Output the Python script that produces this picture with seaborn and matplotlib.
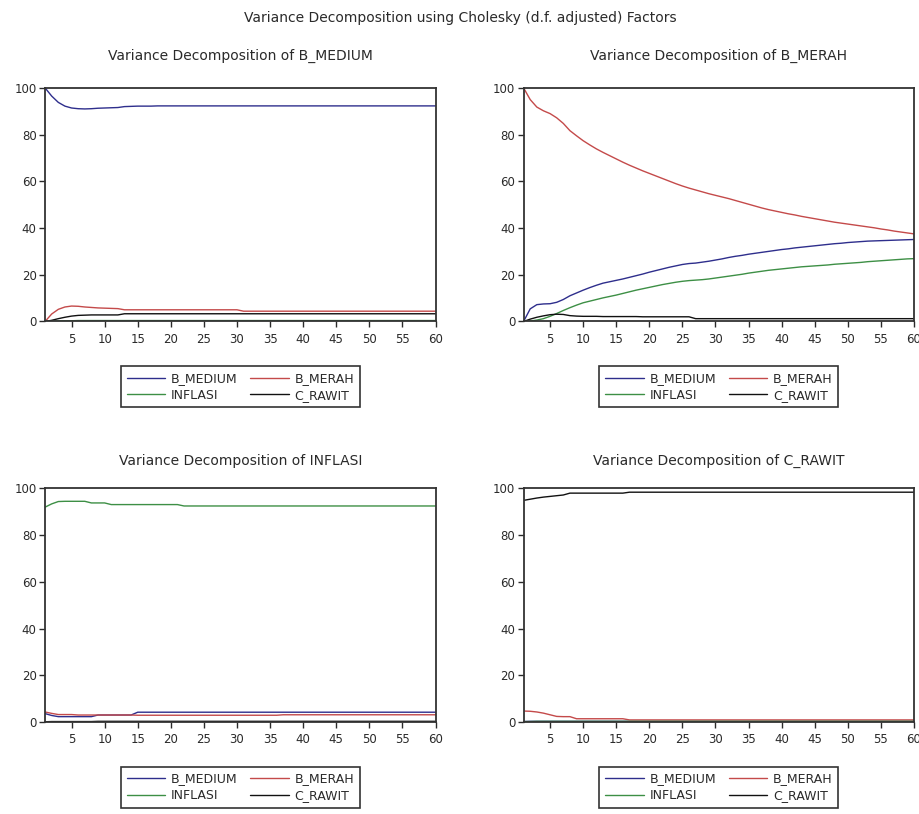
import matplotlib.pyplot as plt
import seaborn as sns
import pandas as pd

# ---------- DATA ----------
PERIODS = list(range(1, 61))
SERIES = ["B_MEDIUM", "B_MERAH", "INFLASI", "C_RAWIT"]
TICKS_X = [5, 10, 15, 20, 25, 30, 35, 40, 45, 50, 55, 60]
TICKS_Y = [0, 20, 40, 60, 80, 100]

# Variance Decomposition of B_MEDIUM
bmedium_b_medium = [100.0, 96.5, 93.8, 92.2, 91.4, 91.1, 91.0, 91.1, 91.3, 91.4,
                    91.5, 91.6, 92.0, 92.1, 92.2, 92.2, 92.2, 92.3, 92.3, 92.3,
                    92.3, 92.3, 92.3, 92.3, 92.3, 92.3, 92.3, 92.3, 92.3, 92.3,
                    92.3, 92.3, 92.3, 92.3, 92.3, 92.3, 92.3, 92.3, 92.3, 92.3,
                    92.3, 92.3, 92.3, 92.3, 92.3, 92.3, 92.3, 92.3, 92.3, 92.3,
                    92.3, 92.3, 92.3, 92.3, 92.3, 92.3, 92.3, 92.3, 92.3, 92.3]
bmedium_b_merah = [0.0, 3.2, 5.2, 6.2, 6.6, 6.5, 6.2, 6.0, 5.8, 5.7,
                   5.6, 5.5, 5.0, 5.0, 5.0, 5.0, 5.0, 5.0, 5.0, 5.0,
                   5.0, 5.0, 5.0, 5.0, 5.0, 5.0, 5.0, 5.0, 5.0, 5.0,
                   4.4, 4.4, 4.4, 4.4, 4.4, 4.4, 4.4, 4.4, 4.4, 4.4,
                   4.4, 4.4, 4.4, 4.4, 4.4, 4.4, 4.4, 4.4, 4.4, 4.4,
                   4.4, 4.4, 4.4, 4.4, 4.4, 4.4, 4.4, 4.4, 4.4, 4.4]
bmedium_inflasi = [0.0, 0.1, 0.2, 0.3, 0.3, 0.4, 0.4, 0.4, 0.4, 0.4,
                   0.4, 0.4, 0.4, 0.4, 0.4, 0.4, 0.4, 0.4, 0.4, 0.4,
                   0.4, 0.4, 0.4, 0.4, 0.4, 0.4, 0.4, 0.4, 0.4, 0.4,
                   0.4, 0.4, 0.4, 0.4, 0.4, 0.4, 0.4, 0.4, 0.4, 0.4,
                   0.4, 0.4, 0.4, 0.4, 0.4, 0.4, 0.4, 0.4, 0.4, 0.4,
                   0.4, 0.4, 0.4, 0.4, 0.4, 0.4, 0.4, 0.4, 0.4, 0.4]
bmedium_c_rawit = [0.0, 0.5, 1.2, 1.8, 2.3, 2.6, 2.7, 2.8, 2.8, 2.8,
                   2.8, 2.8, 3.3, 3.3, 3.3, 3.3, 3.3, 3.3, 3.3, 3.3,
                   3.3, 3.3, 3.3, 3.3, 3.3, 3.3, 3.3, 3.3, 3.3, 3.3,
                   3.3, 3.3, 3.3, 3.3, 3.3, 3.3, 3.3, 3.3, 3.3, 3.3,
                   3.3, 3.3, 3.3, 3.3, 3.3, 3.3, 3.3, 3.3, 3.3, 3.3,
                   3.3, 3.3, 3.3, 3.3, 3.3, 3.3, 3.3, 3.3, 3.3, 3.3]

# Variance Decomposition of B_MERAH
bmerah_b_medium = [0.0, 5.4, 7.2, 7.5, 7.6, 8.2, 9.4, 11.0, 12.2, 13.4,
                   14.5, 15.5, 16.4, 17.0, 17.6, 18.2, 18.9, 19.6, 20.3, 21.1,
                   21.8, 22.5, 23.2, 23.8, 24.4, 24.8, 25.0, 25.4, 25.8, 26.3,
                   26.8, 27.4, 27.9, 28.3, 28.8, 29.2, 29.6, 30.0, 30.4, 30.8,
                   31.1, 31.5, 31.8, 32.1, 32.4, 32.7, 33.0, 33.3, 33.5, 33.8,
                   34.0, 34.2, 34.4, 34.5, 34.6, 34.7, 34.8, 34.9, 35.0, 35.1]
bmerah_b_merah = [100.0, 95.0, 91.8, 90.2, 89.0, 87.2, 84.8, 81.7, 79.5, 77.4,
                  75.6, 73.9, 72.4, 71.0, 69.6, 68.2, 66.9, 65.7, 64.5, 63.4,
                  62.3, 61.2, 60.1, 59.0, 58.0, 57.1, 56.3, 55.5, 54.7, 54.0,
                  53.3, 52.6, 51.8, 51.0, 50.2, 49.4, 48.6, 47.9, 47.3, 46.7,
                  46.1, 45.6, 45.0, 44.5, 44.0, 43.5, 43.0, 42.5, 42.1, 41.7,
                  41.3, 40.9, 40.5, 40.1, 39.6, 39.2, 38.7, 38.3, 37.9, 37.5]
bmerah_inflasi = [0.0, 0.2, 0.6, 1.2, 2.2, 3.4, 4.7, 5.9, 7.0, 8.0,
                  8.7, 9.4, 10.1, 10.7, 11.3, 12.0, 12.7, 13.4, 14.0, 14.6,
                  15.2, 15.8, 16.3, 16.8, 17.2, 17.5, 17.7, 17.9, 18.2, 18.6,
                  19.0, 19.4, 19.8, 20.2, 20.7, 21.1, 21.5, 21.9, 22.2, 22.5,
                  22.8, 23.1, 23.4, 23.6, 23.8, 24.0, 24.2, 24.5, 24.7, 24.9,
                  25.1, 25.3, 25.6, 25.8, 26.0, 26.2, 26.4, 26.6, 26.8, 26.9]
bmerah_c_rawit = [0.0, 1.0, 1.8, 2.4, 2.9, 3.1, 3.0, 2.5, 2.3, 2.2,
                  2.2, 2.2, 2.1, 2.1, 2.1, 2.1, 2.1, 2.1, 2.0, 2.0,
                  2.0, 2.0, 2.0, 2.0, 2.0, 2.0, 1.2, 1.2, 1.2, 1.2,
                  1.2, 1.2, 1.2, 1.2, 1.2, 1.2, 1.2, 1.2, 1.2, 1.2,
                  1.2, 1.2, 1.2, 1.2, 1.2, 1.2, 1.2, 1.2, 1.2, 1.2,
                  1.2, 1.2, 1.2, 1.2, 1.2, 1.2, 1.2, 1.2, 1.2, 1.2]

# Variance Decomposition of INFLASI
inflasi_b_medium = [3.6, 2.8, 2.3, 2.3, 2.3, 2.3, 2.3, 2.3, 3.0, 3.0,
                    3.0, 3.0, 3.0, 3.0, 4.2, 4.2, 4.2, 4.2, 4.2, 4.2,
                    4.2, 4.2, 4.2, 4.2, 4.2, 4.2, 4.2, 4.2, 4.2, 4.2,
                    4.2, 4.2, 4.2, 4.2, 4.2, 4.2, 4.2, 4.2, 4.2, 4.2,
                    4.2, 4.2, 4.2, 4.2, 4.2, 4.2, 4.2, 4.2, 4.2, 4.2,
                    4.2, 4.2, 4.2, 4.2, 4.2, 4.2, 4.2, 4.2, 4.2, 4.2]
inflasi_b_merah = [4.3, 3.7, 3.2, 3.2, 3.2, 3.0, 3.0, 3.0, 3.0, 3.0,
                   3.0, 3.0, 3.0, 3.0, 2.9, 2.9, 2.9, 2.9, 2.9, 2.9,
                   2.9, 2.9, 2.9, 2.9, 2.9, 2.9, 2.9, 2.9, 2.9, 2.9,
                   2.9, 2.9, 2.9, 2.9, 2.9, 2.9, 3.1, 3.1, 3.1, 3.1,
                   3.1, 3.1, 3.1, 3.1, 3.1, 3.1, 3.1, 3.1, 3.1, 3.1,
                   3.1, 3.1, 3.1, 3.1, 3.1, 3.1, 3.1, 3.1, 3.1, 3.1]
inflasi_inflasi = [92.0, 93.4, 94.4, 94.5, 94.5, 94.5, 94.5, 93.8, 93.8, 93.8,
                   93.1, 93.1, 93.1, 93.1, 93.1, 93.1, 93.1, 93.1, 93.1, 93.1,
                   93.1, 92.5, 92.5, 92.5, 92.5, 92.5, 92.5, 92.5, 92.5, 92.5,
                   92.5, 92.5, 92.5, 92.5, 92.5, 92.5, 92.5, 92.5, 92.5, 92.5,
                   92.5, 92.5, 92.5, 92.5, 92.5, 92.5, 92.5, 92.5, 92.5, 92.5,
                   92.5, 92.5, 92.5, 92.5, 92.5, 92.5, 92.5, 92.5, 92.5, 92.5]
inflasi_c_rawit = [0.1, 0.2, 0.2, 0.2, 0.2, 0.2, 0.2, 0.2, 0.3, 0.3,
                   0.3, 0.3, 0.3, 0.3, 0.3, 0.3, 0.3, 0.3, 0.3, 0.3,
                   0.3, 0.3, 0.3, 0.3, 0.3, 0.3, 0.3, 0.3, 0.3, 0.3,
                   0.3, 0.3, 0.3, 0.3, 0.3, 0.3, 0.3, 0.3, 0.3, 0.3,
                   0.3, 0.3, 0.3, 0.3, 0.3, 0.3, 0.3, 0.3, 0.3, 0.3,
                   0.3, 0.3, 0.3, 0.3, 0.3, 0.3, 0.3, 0.3, 0.3, 0.3]

# Variance Decomposition of C_RAWIT
crawit_b_medium = [0.2, 0.3, 0.3, 0.3, 0.3, 0.3, 0.3, 0.3, 0.3, 0.3,
                   0.3, 0.3, 0.3, 0.3, 0.3, 0.3, 0.3, 0.3, 0.3, 0.3,
                   0.3, 0.3, 0.3, 0.3, 0.3, 0.3, 0.3, 0.3, 0.3, 0.3,
                   0.3, 0.3, 0.3, 0.3, 0.3, 0.3, 0.3, 0.3, 0.3, 0.3,
                   0.3, 0.3, 0.3, 0.3, 0.3, 0.3, 0.3, 0.3, 0.3, 0.3,
                   0.3, 0.3, 0.3, 0.3, 0.3, 0.3, 0.3, 0.3, 0.3, 0.3]
crawit_b_merah = [4.7, 4.6, 4.3, 3.8, 3.1, 2.4, 2.3, 2.3, 1.4, 1.4,
                  1.4, 1.4, 1.4, 1.4, 1.4, 1.4, 0.9, 0.9, 0.9, 0.9,
                  0.9, 0.9, 0.9, 0.9, 0.9, 0.9, 0.9, 0.9, 0.9, 0.9,
                  0.9, 0.9, 0.9, 0.9, 0.9, 0.9, 0.9, 0.9, 0.9, 0.9,
                  0.9, 0.9, 0.9, 0.9, 0.9, 0.9, 0.9, 0.9, 0.9, 0.9,
                  0.9, 0.9, 0.9, 0.9, 0.9, 0.9, 0.9, 0.9, 0.9, 0.9]
crawit_inflasi = [0.2, 0.2, 0.3, 0.3, 0.3, 0.3, 0.3, 0.3, 0.3, 0.3,
                  0.3, 0.3, 0.3, 0.3, 0.3, 0.3, 0.3, 0.3, 0.3, 0.3,
                  0.3, 0.3, 0.3, 0.3, 0.3, 0.3, 0.3, 0.3, 0.3, 0.3,
                  0.3, 0.3, 0.3, 0.3, 0.3, 0.3, 0.3, 0.3, 0.3, 0.3,
                  0.3, 0.3, 0.3, 0.3, 0.3, 0.3, 0.3, 0.3, 0.3, 0.3,
                  0.3, 0.3, 0.3, 0.3, 0.3, 0.3, 0.3, 0.3, 0.3, 0.3]
crawit_c_rawit = [94.9, 95.4, 95.9, 96.3, 96.6, 96.9, 97.2, 98.0, 98.0, 98.0,
                  98.0, 98.0, 98.0, 98.0, 98.0, 98.0, 98.4, 98.4, 98.4, 98.4,
                  98.4, 98.4, 98.4, 98.4, 98.4, 98.4, 98.4, 98.4, 98.4, 98.4,
                  98.4, 98.4, 98.4, 98.4, 98.4, 98.4, 98.4, 98.4, 98.4, 98.4,
                  98.4, 98.4, 98.4, 98.4, 98.4, 98.4, 98.4, 98.4, 98.4, 98.4,
                  98.4, 98.4, 98.4, 98.4, 98.4, 98.4, 98.4, 98.4, 98.4, 98.4]

# ---------- STYLE ----------
COLORS = {"B_MEDIUM": "#2e2e8c", "B_MERAH": "#c44a4a",
          "INFLASI": "#3d8f45", "C_RAWIT": "#111111"}
TEXT_COLOR = "#2a2a2a"

sns.set_style("ticks")
plt.rcParams["font.family"] = ["DejaVu Sans"]

panels = [
    ("B_MEDIUM", [bmedium_b_medium, bmedium_b_merah, bmedium_inflasi, bmedium_c_rawit]),
    ("B_MERAH", [bmerah_b_medium, bmerah_b_merah, bmerah_inflasi, bmerah_c_rawit]),
    ("INFLASI", [inflasi_b_medium, inflasi_b_merah, inflasi_inflasi, inflasi_c_rawit]),
    ("C_RAWIT", [crawit_b_medium, crawit_b_merah, crawit_inflasi, crawit_c_rawit]),
]

fig, axes = plt.subplots(2, 2, figsize=(9.2, 8.14), dpi=100)
fig.subplots_adjust(left=0.049, right=0.9935, bottom=0.113, top=0.892,
                    wspace=0.2256, hspace=0.715)

for i, (ax, (target, values)) in enumerate(zip(axes.flat, panels)):
    wide = pd.DataFrame({"period": PERIODS})
    for name, vals in zip(SERIES, values):
        wide[name] = vals
    long = wide.melt(id_vars="period", var_name="series", value_name="value")

    sns.lineplot(data=long, x="period", y="value", hue="series",
                 hue_order=SERIES, palette=COLORS, linewidth=1.0, ax=ax)

    ax.set_xlim(1, 60)
    ax.set_ylim(0, 100)
    ax.set_xticks(TICKS_X)
    ax.set_yticks(TICKS_Y)
    ax.set_xlabel("")
    ax.set_ylabel("")
    ax.tick_params(axis="x", direction="out", length=4, width=1, pad=4,
                   labelsize=8.5, colors=TEXT_COLOR)
    ax.tick_params(axis="y", direction="out", length=4.5, width=1, pad=1.5,
                   labelsize=8.5, colors=TEXT_COLOR)
    for spine in ax.spines.values():
        spine.set_visible(True)
        spine.set_color("#333333")
        spine.set_linewidth(1.3)

    ax.set_title(f"Variance Decomposition of {target}", fontsize=10,
                 color=TEXT_COLOR, pad=20 if i < 2 else 17)

    # legend laid out row by row: B_MEDIUM B_MERAH / INFLASI C_RAWIT
    handles, labels = ax.get_legend_handles_labels()
    lookup = dict(zip(labels, handles))
    order = ["B_MEDIUM", "INFLASI", "B_MERAH", "C_RAWIT"]
    ax.get_legend().remove()
    leg = ax.legend([lookup[k] for k in order], order,
                    loc="upper center", bbox_to_anchor=(0.5, -0.165), ncol=2,
                    frameon=True, fancybox=False, fontsize=9,
                    handlelength=3.1, handletextpad=0.45, columnspacing=1.0,
                    borderpad=0.45, labelspacing=0.3, framealpha=1)
    leg.get_frame().set_edgecolor("#333333")
    leg.get_frame().set_linewidth(1.2)
    for txt in leg.get_texts():
        txt.set_color(TEXT_COLOR)

fig.suptitle("Variance Decomposition using Cholesky (d.f. adjusted) Factors",
             y=0.978, va="center", fontsize=10, color=TEXT_COLOR)

plt.savefig("out.png", dpi=100)
print("saved out.png")
